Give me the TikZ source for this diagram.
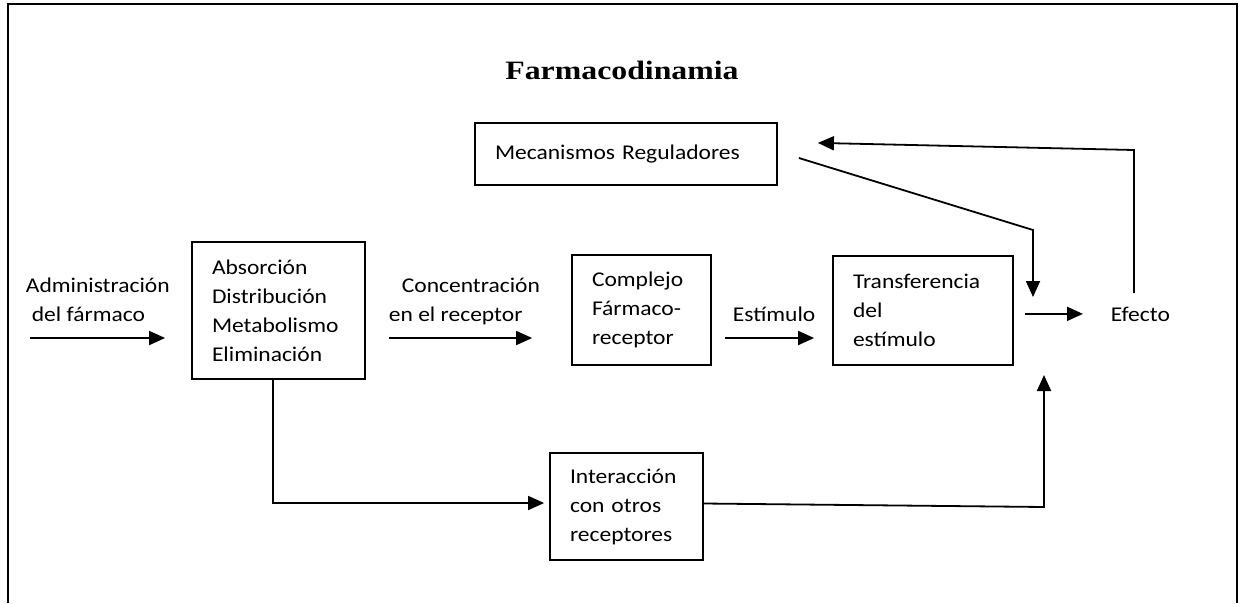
\documentclass[tikz,border=0pt]{standalone}
\usepackage{fontspec}
\setmainfont[FakeStretch=1.12]{Carlito}
\newfontfamily\titlefont[FakeStretch=1.2]{Liberation Serif}
\usetikzlibrary{arrows.meta}

\begin{document}
\begin{tikzpicture}[x=1pt,y=-1pt,>={Triangle[length=16pt,width=14pt]},line width=1.8pt,
    font=\fontsize{21}{29}\selectfont,
    box/.style={draw,align=left,inner xsep=20pt,inner ysep=0pt},
    lbl/.style={align=left,inner sep=0pt}]
  \useasboundingbox (0,0) rectangle (1242,603);
  \draw[line width=2.5pt] (8,603) -- (8,4) -- (1237,4) -- (1237,603);

  \node[anchor=base,font=\titlefont\bfseries\fontsize{26.5}{30}\selectfont] (title) at (622,79) {Farmacodinamia};

  % boxes
  \node[box,text width=262pt,minimum height=62pt] (reg) at (626,154) {Mecanismos Reguladores};
  \node[box,text width=133pt,minimum height=137pt] (abs) at (278.5,310.5) {Absorción\\Distribución\\Metabolismo\\Eliminación};
  \node[box,text width=99pt,minimum height=110pt] (cpx) at (641.5,310) {Complejo\\Fármaco-\\receptor};
  \node[box,text width=140pt,minimum height=109pt] (trf) at (923,310.5) {Transferencia\\del\\estímulo};
  \node[box,text width=113pt,minimum height=107pt] (oth) at (626.5,506.5) {Interacción\\con otros\\receptores};

  % labels
  \node[lbl,anchor=north west] (adm) at (25,277) {Administración\\\hspace*{6pt}del fármaco};
  \node[lbl,anchor=north west] (conc) at (388,277) {\hspace*{13pt}Concentración\\en el receptor};
  \node[lbl,anchor=base west] (stim) at (732,321) {Estímulo};
  \node[lbl,anchor=base west] (eff) at (1110,321) {Efecto};

  % connectors
  \coordinate (in) at (30,338);
  \coordinate (fb) at (1134,150);
  \coordinate (rg) at (1033,230);
  \coordinate (up) at (1044,507);
  \draw[->,shorten >=26pt] (in) -- (in -| abs.west);
  \draw[->,shorten <=23pt,shorten >=39pt] (abs.east |- in) -- (cpx.west |- in);
  \draw[->,shorten <=13pt,shorten >=18pt] (cpx.east |- in) -- (trf.west |- in);
  \draw[->,shorten <=11pt,shorten >=27pt] (trf.east |- eff.west) -- (eff.west);
  \draw[->] ([xshift=21pt,yshift=-4pt]reg.east) -- (rg) -- (rg |- 0,297);
  \draw[->,shorten >=40pt] (fb |- 0,293) -- (fb) -- (reg.east |- 0,142);
  \draw[->,shorten >=5pt] ([xshift=-5.5pt]abs.south) |- ([yshift=3.5pt]oth.west);
  \draw[->] ([yshift=3pt]oth.east) -- (up) -- ++(0,-132);
\end{tikzpicture}
\end{document}
